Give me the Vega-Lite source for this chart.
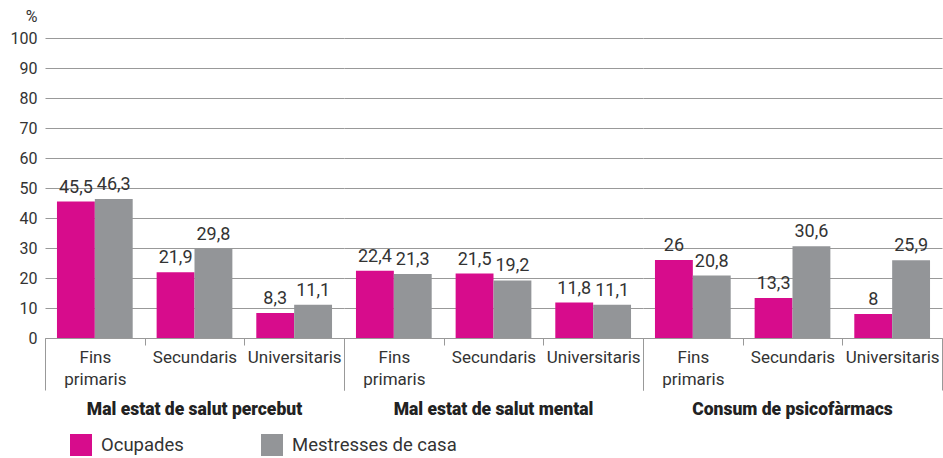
{
  "$schema": "https://vega.github.io/schema/vega-lite/v6.json",
  "padding": {"left": 10, "top": 8, "right": 0, "bottom": 0},
  "data": {"values": [
    {"group": "Mal estat de salut percebut", "edu": "Fins primaris", "series": "Ocupades", "value": 45.5},
    {"group": "Mal estat de salut percebut", "edu": "Fins primaris", "series": "Mestresses de casa", "value": 46.3},
    {"group": "Mal estat de salut percebut", "edu": "Secundaris", "series": "Ocupades", "value": 21.9},
    {"group": "Mal estat de salut percebut", "edu": "Secundaris", "series": "Mestresses de casa", "value": 29.8},
    {"group": "Mal estat de salut percebut", "edu": "Universitaris", "series": "Ocupades", "value": 8.3},
    {"group": "Mal estat de salut percebut", "edu": "Universitaris", "series": "Mestresses de casa", "value": 11.1},
    {"group": "Mal estat de salut mental", "edu": "Fins primaris", "series": "Ocupades", "value": 22.4},
    {"group": "Mal estat de salut mental", "edu": "Fins primaris", "series": "Mestresses de casa", "value": 21.3},
    {"group": "Mal estat de salut mental", "edu": "Secundaris", "series": "Ocupades", "value": 21.5},
    {"group": "Mal estat de salut mental", "edu": "Secundaris", "series": "Mestresses de casa", "value": 19.2},
    {"group": "Mal estat de salut mental", "edu": "Universitaris", "series": "Ocupades", "value": 11.8},
    {"group": "Mal estat de salut mental", "edu": "Universitaris", "series": "Mestresses de casa", "value": 11.1},
    {"group": "Consum de psicofàrmacs", "edu": "Fins primaris", "series": "Ocupades", "value": 26},
    {"group": "Consum de psicofàrmacs", "edu": "Fins primaris", "series": "Mestresses de casa", "value": 20.8},
    {"group": "Consum de psicofàrmacs", "edu": "Secundaris", "series": "Ocupades", "value": 13.3},
    {"group": "Consum de psicofàrmacs", "edu": "Secundaris", "series": "Mestresses de casa", "value": 30.6},
    {"group": "Consum de psicofàrmacs", "edu": "Universitaris", "series": "Ocupades", "value": 8},
    {"group": "Consum de psicofàrmacs", "edu": "Universitaris", "series": "Mestresses de casa", "value": 25.9}
  ]},
  "config": {
    "font": "Roboto",
    "locale": {"number": {"decimal": ",", "thousands": ".", "grouping": [3], "currency": ["", " €"]}},
    "view": {"stroke": null},
    "facet": {"spacing": 0}
  },
  "spacing": 0,
  "facet": {
    "column": {
      "field": "group",
      "type": "nominal",
      "sort": ["Mal estat de salut percebut", "Mal estat de salut mental", "Consum de psicofàrmacs"],
      "title": null,
      "header": {"labelOrient": "bottom", "labelFontWeight": 900, "labelFontSize": 17.5, "labelColor": "#222", "labelPadding": -9, "labelFont": "Roboto"}
    }
  },
  "spec": {
    "width": 299,
    "height": 300,
    "encoding": {
      "x": {
        "field": "edu", "type": "nominal",
        "sort": ["Fins primaris", "Secundaris", "Universitaris"],
        "scale": {"paddingInner": 0, "paddingOuter": 0},
        "axis": {
          "title": null, "labelAngle": 0, "tickBand": "extent",
          "tickSize": {"condition": {"test": "datum.value === 'Universitaris' || !!datum.extra", "value": 52}, "value": 7},
          "labelPadding": {"condition": {"test": "datum.value === 'Universitaris'", "value": -41}, "value": 4},
          "tickColor": "#999", "domainColor": "#999",
          "labelFontSize": 17, "labelColor": "#333", "labelLineHeight": 22, "labelLimit": 200,
          "labelExpr": "datum.value === 'Fins primaris' ? ['Fins', 'primaris'] : datum.value"
        }
      },
      "xOffset": {"field": "series", "type": "nominal", "sort": ["Ocupades", "Mestresses de casa"], "scale": {"paddingOuter": 0.316, "paddingInner": 0}},
      "y": {
        "field": "value", "type": "quantitative",
        "scale": {"domain": [0, 100]},
        "axis": {
          "values": [0, 10, 20, 30, 40, 50, 60, 70, 80, 90, 100],
          "domain": false, "ticks": false, "labelPadding": 8,
          "labelFontSize": 16, "labelColor": "#333",
          "gridColor": "#999", "gridOpacity": 1,
          "title": "%", "titleAngle": 0, "titleFontWeight": "normal", "titleFontSize": 16, "titleColor": "#333",
          "titleAlign": "right", "titleBaseline": "bottom", "titleX": -8, "titleY": -14
        }
      }
    },
    "layer": [
      {
        "mark": {"type": "bar"},
        "encoding": {
          "color": {
            "field": "series", "type": "nominal",
            "sort": ["Ocupades", "Mestresses de casa"],
            "scale": {"range": ["#d70c8c", "#939598"]},
            "legend": {
              "title": null, "orient": "none", "direction": "horizontal",
              "legendX": 25, "legendY": 396,
              "symbolType": "square", "symbolSize": 484, "symbolStrokeWidth": 0, "symbolOpacity": 1,
              "labelFontSize": 18.5, "labelColor": "#333", "labelOffset": 9, "columnPadding": 77, "labelLimit": 300
            }
          }
        }
      },
      {
        "mark": {"type": "text", "baseline": "bottom", "dy": -5, "fontSize": 18, "color": "#333"},
        "encoding": {
          "text": {"field": "value", "type": "quantitative", "format": ".1~f"}
        }
      }
    ]
  }
}
